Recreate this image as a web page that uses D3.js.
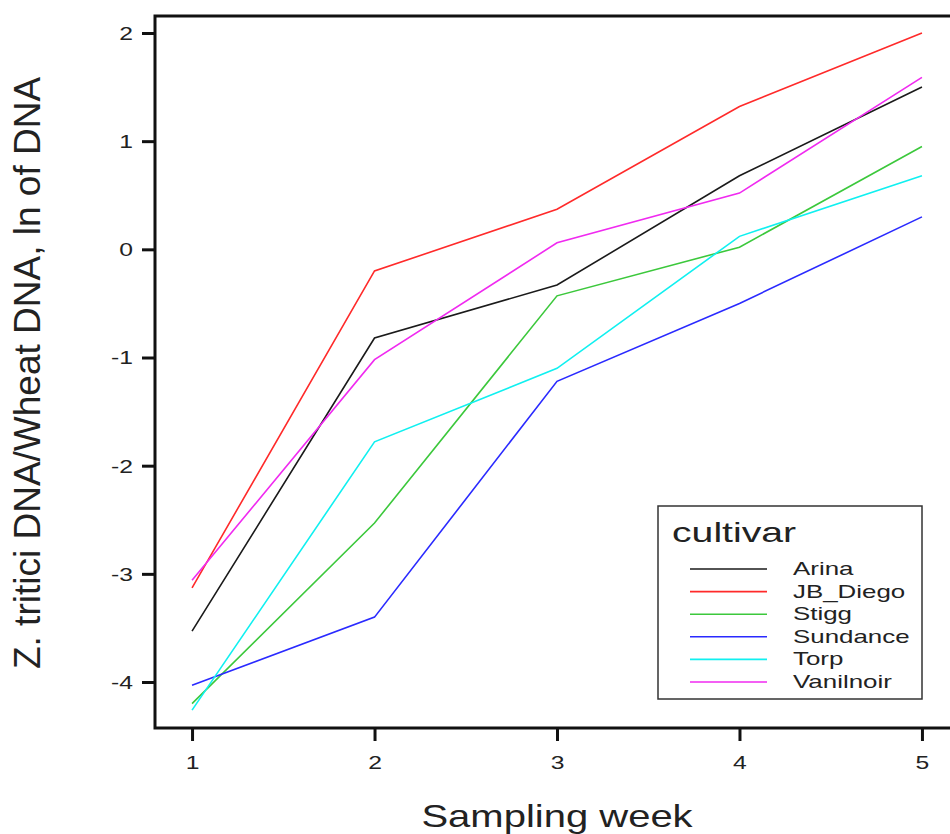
<!DOCTYPE html>
<html>
<head>
<meta charset="utf-8">
<script src="https://cdn.jsdelivr.net/npm/d3@7"></script>
<style>
  html, body { margin: 0; padding: 0; background: #fff; }
  svg { display: block; }
  text { font-family: "Liberation Sans", Arial, sans-serif; fill: #222; }
</style>
</head>
<body>
<svg id="chart" width="950" height="834"></svg>
<script>
// Sampling weeks and pathogen DNA ratio (ln) per cultivar
const weeks = [1, 2, 3, 4, 5];
const cultivars = ["Arina", "JB_Diego", "Stigg", "Sundance", "Torp", "Vanilnoir"];
const arina     = [-3.53, -0.82, -0.33, 0.68, 1.50];
const jbDiego   = [-3.13, -0.20, 0.37, 1.32, 2.00];
const stigg     = [-4.20, -2.53, -0.43, 0.02, 0.95];
const sundance  = [-4.03, -3.40, -1.22, -0.50, 0.30];
const torp      = [-4.26, -1.78, -1.10, 0.12, 0.68];
const vanilnoir = [-3.06, -1.02, 0.06, 0.52, 1.59];
const colors = ["#1a1a1a", "#ff2a2a", "#3cc83c", "#2a2aff", "#10f0f0", "#f02af0"];
const yTicks = [-4, -3, -2, -1, 0, 1, 2];

const seriesValues = [arina, jbDiego, stigg, sundance, torp, vanilnoir];
const series = cultivars.map((name, i) => ({
  name, color: colors[i],
  points: weeks.map((w, j) => ({ week: w, value: seriesValues[i][j] }))
}));

const svg = d3.select("#chart");
const sx = 1.4; // horizontal text stretch

// Plot frame: left 155, right 959, top 16, bottom 728
const frame = { left: 155, right: 959, top: 16, bottom: 728 };
const x = d3.scaleLinear().domain([0.797, 5.203]).range([frame.left, frame.right]);
const y = d3.scaleLinear().domain([-4.425, 2.157]).range([frame.bottom, frame.top]);

// Lines
const line = d3.line().x(d => x(d.week)).y(d => y(d.value));
svg.append("g").selectAll("path").data(series).join("path")
  .attr("d", d => line(d.points))
  .attr("fill", "none")
  .attr("stroke", d => d.color)
  .attr("stroke-width", 1.6)
  .attr("stroke-linejoin", "miter");

// Frame box
svg.append("rect")
  .attr("x", frame.left).attr("y", frame.top)
  .attr("width", frame.right - frame.left).attr("height", frame.bottom - frame.top)
  .attr("fill", "none").attr("stroke", "#111").attr("stroke-width", 3);

// Y axis
const yAxis = svg.append("g").attr("transform", `translate(${frame.left},0)`)
  .call(d3.axisLeft(y).tickValues(yTicks).tickSize(13).tickPadding(9).tickFormat(d3.format("d")));
yAxis.select(".domain").remove();
yAxis.selectAll(".tick line").attr("stroke", "#111").attr("stroke-width", 3);
yAxis.selectAll(".tick text")
  .attr("font-size", 19).attr("fill", "#222")
  .attr("x", null).attr("dy", null)
  .attr("text-anchor", "end").attr("dominant-baseline", "central")
  .attr("transform", `translate(-22,0) scale(1.3,1)`)
  .text(d => d < 0 ? "-" + Math.abs(d) : d);

// X axis
const xAxis = svg.append("g").attr("transform", `translate(0,${frame.bottom})`)
  .call(d3.axisBottom(x).tickValues(weeks).tickSize(13).tickPadding(9).tickFormat(d3.format("d")));
xAxis.select(".domain").remove();
xAxis.selectAll(".tick line").attr("stroke", "#111").attr("stroke-width", 3);
xAxis.selectAll(".tick text")
  .attr("font-size", 19).attr("fill", "#222")
  .attr("y", null).attr("dy", null)
  .attr("text-anchor", "middle")
  .attr("transform", `translate(0,41) scale(1.3,1)`);

// Axis titles
svg.append("text")
  .attr("transform", `translate(557,827) scale(1.25,1)`)
  .attr("text-anchor", "middle").attr("font-size", 32)
  .text("Sampling week");
svg.append("text")
  .attr("transform", "translate(40,373) rotate(-90)")
  .attr("text-anchor", "middle").attr("font-size", 37)
  .text("Z. tritici DNA/Wheat DNA, ln of DNA");

// Legend
const legend = svg.append("g");
legend.append("rect")
  .attr("x", 658).attr("y", 506).attr("width", 264).attr("height", 193)
  .attr("fill", "#fff").attr("stroke", "#333").attr("stroke-width", 1.5);
legend.append("text")
  .attr("transform", `translate(672,542) scale(${sx},1)`)
  .attr("font-size", 28).text("cultivar");
const rows = legend.selectAll("g.row").data(series).join("g")
  .attr("class", "row")
  .attr("transform", (d, i) => `translate(0,${569 + i * 22.6})`);
rows.append("line")
  .attr("x1", 690).attr("x2", 767).attr("y1", 0).attr("y2", 0)
  .attr("stroke", d => d.color).attr("stroke-width", 1.6);
rows.append("text")
  .attr("transform", `translate(793,6) scale(${sx},1)`)
  .attr("font-size", 18.5).text(d => d.name);
</script>
</body>
</html>
